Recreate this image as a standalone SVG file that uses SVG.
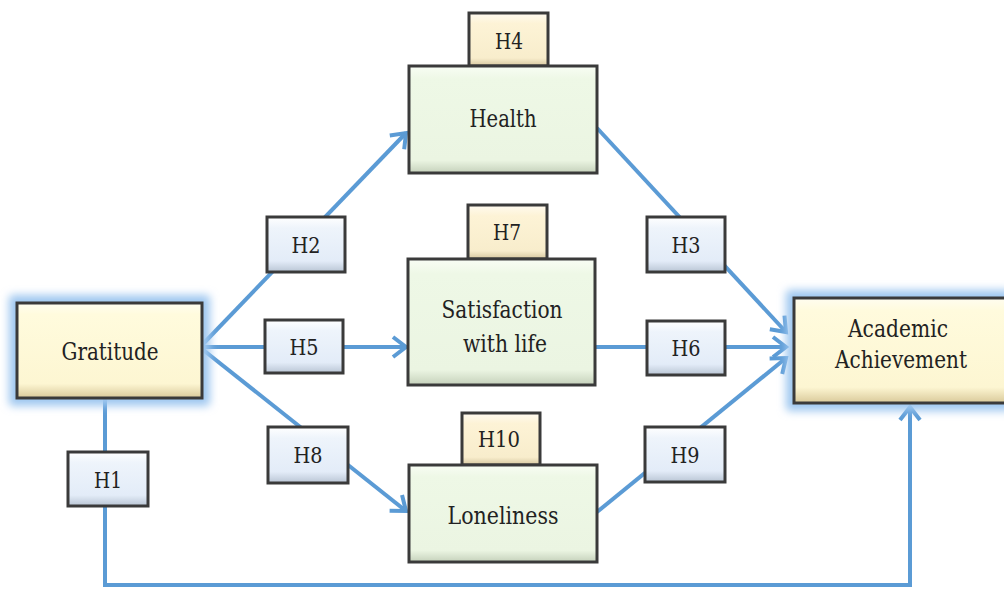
<svg xmlns="http://www.w3.org/2000/svg" width="1004" height="589" viewBox="0 0 1004 589">
<defs>
<style>
.conn{fill:none;stroke:#5b9bd5;stroke-width:4;stroke-linecap:butt;stroke-linejoin:miter}
.box{stroke:#3a3a3a;stroke-width:3}
.main{fill:url(#gy)}
.mid{fill:url(#gg)}
.hyp{fill:url(#gb)}
.tab{fill:url(#gt)}
.glow{fill:#9fc7f0;filter:url(#blur)}
text{font-family:'DejaVu Serif',serif;fill:#222;text-anchor:middle;dominant-baseline:central}
.lbl{font-size:24.5px}
.h{font-size:22.5px}
</style>
<linearGradient id="gy" x1="0" y1="0" x2="0" y2="1">
<stop offset="0" stop-color="#fffdf0"/><stop offset="0.12" stop-color="#fffbdd"/><stop offset="0.85" stop-color="#fdf6d2"/><stop offset="1" stop-color="#d9c99a"/>
</linearGradient>
<linearGradient id="gg" x1="0" y1="0" x2="0" y2="1">
<stop offset="0" stop-color="#f8fdf4"/><stop offset="0.12" stop-color="#eef8e6"/><stop offset="0.88" stop-color="#ebf5e2"/><stop offset="1" stop-color="#c5d1bb"/>
</linearGradient>
<linearGradient id="gb" x1="0" y1="0" x2="0" y2="1">
<stop offset="0" stop-color="#ffffff"/><stop offset="0.2" stop-color="#eef4fb"/><stop offset="0.8" stop-color="#e3ecf8"/><stop offset="1" stop-color="#b9c5d4"/>
</linearGradient>
<linearGradient id="gt" x1="0" y1="0" x2="0" y2="1">
<stop offset="0" stop-color="#fffaf0"/><stop offset="0.2" stop-color="#fdf3d6"/><stop offset="0.85" stop-color="#f8edcc"/><stop offset="1" stop-color="#d6c79f"/>
</linearGradient>
<filter id="blur" x="-20%" y="-20%" width="140%" height="140%"><feGaussianBlur stdDeviation="4"/></filter>
<marker id="arr" markerUnits="userSpaceOnUse" markerWidth="30" markerHeight="30" refX="20" refY="15" orient="auto">
<path d="M7,5 L20,15 L7,25" fill="none" stroke="#5b9bd5" stroke-width="4"/>
</marker>
</defs>
<rect width="1004" height="589" fill="#ffffff"/>
<g id="connectors">
<path class="conn" d="M202,345 L406,133" marker-end="url(#arr)"/>
<path class="conn" d="M202,347 L406,347" marker-end="url(#arr)"/>
<path class="conn" d="M202,349 L406,511" marker-end="url(#arr)"/>
<path class="conn" d="M597,128 L786,332" marker-end="url(#arr)"/>
<path class="conn" d="M595,347 L786,347" marker-end="url(#arr)"/>
<path class="conn" d="M597,512 L786,358" marker-end="url(#arr)"/>
<path class="conn" d="M105,398 L105,585 L910,585 L910,407" marker-end="url(#arr)"/>
</g>
<g id="gratitude">
<rect class="glow" x="9" y="295" width="201" height="111" rx="4"/>
<rect class="box main" x="17" y="303" width="185" height="95"/>
<text class="lbl" x="110" y="351" textLength="97" lengthAdjust="spacingAndGlyphs">Gratitude</text>
</g>
<g id="academic">
<rect class="glow" x="786" y="290" width="226" height="121" rx="4"/>
<rect class="box main" x="794" y="298" width="214" height="105"/>
<text class="lbl" x="898" y="328" textLength="100" lengthAdjust="spacingAndGlyphs">Academic</text>
<text class="lbl" x="901" y="359" textLength="132" lengthAdjust="spacingAndGlyphs">Achievement</text>
</g>
<g id="health">
<rect class="box tab" x="469" y="13" width="79" height="53"/>
<rect class="box mid" x="409" y="66" width="188" height="107"/>
<text class="h" x="509" y="41" textLength="28" lengthAdjust="spacingAndGlyphs">H4</text>
<text class="lbl" x="503" y="118" textLength="67" lengthAdjust="spacingAndGlyphs">Health</text>
</g>
<g id="satisfaction">
<rect class="box tab" x="468" y="205" width="79" height="54"/>
<rect class="box mid" x="408" y="259" width="187" height="126"/>
<text class="h" x="507" y="232" textLength="28" lengthAdjust="spacingAndGlyphs">H7</text>
<text class="lbl" x="502" y="309" textLength="121" lengthAdjust="spacingAndGlyphs">Satisfaction</text>
<text class="lbl" x="505" y="343" textLength="84" lengthAdjust="spacingAndGlyphs">with life</text>
</g>
<g id="loneliness">
<rect class="box tab" x="462" y="413" width="78" height="52"/>
<rect class="box mid" x="409" y="465" width="188" height="97"/>
<text class="h" x="499" y="439" textLength="42" lengthAdjust="spacingAndGlyphs">H10</text>
<text class="lbl" x="503" y="515" textLength="111" lengthAdjust="spacingAndGlyphs">Loneliness</text>
</g>
<g id="h1"><rect class="box hyp" x="68" y="452" width="80" height="54"/><text class="h" x="108" y="480" textLength="28" lengthAdjust="spacingAndGlyphs">H1</text></g>
<g id="h2"><rect class="box hyp" x="267" y="217" width="78" height="55"/><text class="h" x="306" y="245" textLength="29" lengthAdjust="spacingAndGlyphs">H2</text></g>
<g id="h5"><rect class="box hyp" x="265" y="320" width="78" height="53"/><text class="h" x="304" y="347" textLength="29" lengthAdjust="spacingAndGlyphs">H5</text></g>
<g id="h8"><rect class="box hyp" x="268" y="427" width="80" height="56"/><text class="h" x="308" y="455" textLength="29" lengthAdjust="spacingAndGlyphs">H8</text></g>
<g id="h3"><rect class="box hyp" x="647" y="217" width="78" height="55"/><text class="h" x="686" y="245" textLength="29" lengthAdjust="spacingAndGlyphs">H3</text></g>
<g id="h6"><rect class="box hyp" x="647" y="321" width="78" height="54"/><text class="h" x="686" y="348" textLength="29" lengthAdjust="spacingAndGlyphs">H6</text></g>
<g id="h9"><rect class="box hyp" x="645" y="427" width="80" height="55"/><text class="h" x="685" y="455" textLength="29" lengthAdjust="spacingAndGlyphs">H9</text></g>
</svg>
